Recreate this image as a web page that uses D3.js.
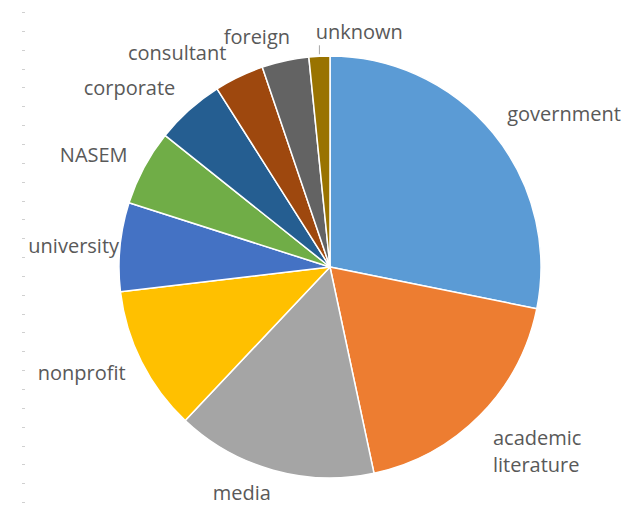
<!DOCTYPE html>
<html>
<head>
<meta charset="utf-8">
<script src="https://cdn.jsdelivr.net/npm/d3@7"></script>
<style>
  html, body { margin: 0; padding: 0; background: #ffffff; }
  svg { display: block; }
  text { font-family: "Open Sans", "Noto Sans", sans-serif; }
</style>
</head>
<body>
<svg id="chart" width="623" height="508"></svg>
<script>
// ---- data ----
const categories = ["government", "academic literature", "media", "nonprofit", "university",
                    "NASEM", "corporate", "consultant", "foreign", "unknown"];
const shares = [28.2, 18.5, 15.4, 11.1, 6.8, 5.8, 5.3, 3.8, 3.6, 1.6];
const colors = ["#5B9BD5", "#ED7D31", "#A5A5A5", "#FFC000", "#4472C4",
                "#70AD47", "#255E91", "#9E480E", "#636363", "#997300"];

// ---- layout (label nudges relative to computed outside position) ----
const labelNudge = [[3, -3.5], [3, 17], [1.6, 3.8], [-3.4, 3.4], [13, 3],
                    [-4, 0], [-4.4, -4], [-6.7, -2], [7.7, 0], [-3, 0]];

const W = 623, H = 508;
const cx = 330, cy = 267, r = 211;
const svg = d3.select("#chart");

// faint tick artifacts at left
const tickYs = d3.range(27).map(i => 12 + i * 18.85);
svg.append("g").selectAll("line").data(tickYs).join("line")
  .attr("x1", 22).attr("x2", 25)
  .attr("y1", d => Math.round(d) + 0.5).attr("y2", d => Math.round(d) + 0.5)
  .attr("stroke", "#d0d0d0").attr("stroke-width", 1);

const data = categories.map((c, i) => ({ name: c, value: shares[i], color: colors[i], i }));
const pie = d3.pie().value(d => d.value).sort(null);
const arcs = pie(data);
const arc = d3.arc().innerRadius(0).outerRadius(r);

const g = svg.append("g").attr("transform", `translate(${cx},${cy})`);
g.selectAll("path").data(arcs).join("path")
  .attr("d", arc)
  .attr("fill", d => d.data.color)
  .attr("stroke", "#ffffff")
  .attr("stroke-width", 1.5)
  .attr("stroke-linejoin", "round");

// labels
const R = r + 14;
const lg = g.append("g");
arcs.forEach(a => {
  const mid = (a.startAngle + a.endAngle) / 2;
  const s = Math.sin(mid), c = Math.cos(mid);
  const px = s * R, py = -c * R;
  const [nx, ny] = labelNudge[a.data.i];
  const anchor = s >= -0.1 ? "start" : "end";
  const words = a.data.name === "academic literature" ? ["academic", "literature"] : [a.data.name];
  const lineH = 27;
  const centerY = py - c * (words.length > 1 ? 16 : 8);
  const firstBase = centerY + 5 - (words.length - 1) * lineH / 2;
  const t = lg.append("text")
    .attr("text-anchor", anchor)
    .attr("font-size", 20)
    .attr("fill", "#595959");
  words.forEach((w, k) => {
    t.append("tspan").attr("x", px + nx).attr("y", firstBase + ny + k * lineH).text(w);
  });
  if (a.data.name === "unknown") {
    // leader line from slice edge up to label
    lg.append("line")
      .attr("x1", s * r).attr("y1", -c * r - 2)
      .attr("x2", s * r).attr("y2", firstBase + ny + 6)
      .attr("stroke", "#a6a6a6").attr("stroke-width", 1);
  }
});
</script>
</body>
</html>
